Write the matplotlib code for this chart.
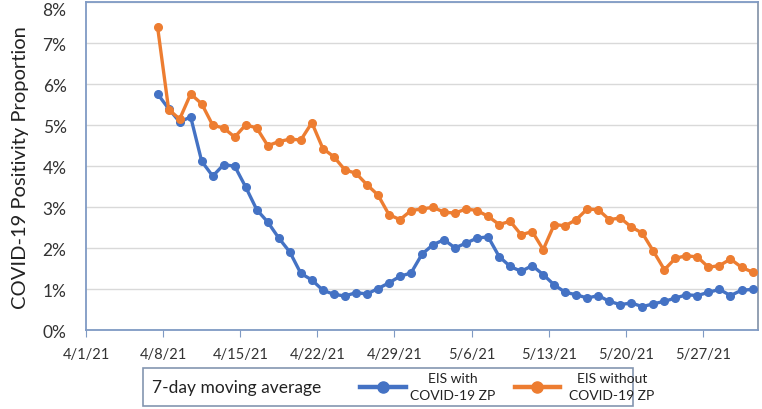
import matplotlib
matplotlib.use("Agg")
import matplotlib.pyplot as plt
from matplotlib.lines import Line2D
from matplotlib.patches import Rectangle
import pandas as pd

plt.rcParams['font.family'] = ['Lato', 'DejaVu Sans']

# 7-day moving averages, percent (plotted mid-day, 4/7/21 .. 5/31/21)
dates = pd.date_range("2021-04-07 12:00", periods=55, freq="D")
with_zp = [5.76, 5.40, 5.08, 5.20, 4.12, 3.76, 4.04, 4.00, 3.49, 2.94, 2.64,
           2.25, 1.91, 1.39, 1.23, 0.98, 0.88, 0.84, 0.92, 0.89, 1.02, 1.16, 1.32,
           1.40, 1.86, 2.09, 2.21, 2.01, 2.13, 2.25, 2.28, 1.80, 1.56, 1.44,
           1.58, 1.36, 1.11, 0.93, 0.87, 0.79, 0.85, 0.71, 0.63, 0.67, 0.58,
           0.65, 0.71, 0.79, 0.87, 0.85, 0.93, 1.00, 0.85, 0.98, 1.00]
without_zp = [7.38, 5.38, 5.15, 5.76, 5.52, 5.00, 4.93, 4.71, 5.01, 4.93, 4.50,
              4.60, 4.66, 4.64, 5.06, 4.43, 4.23, 3.91, 3.83, 3.55, 3.30, 2.82, 2.70,
              2.92, 2.96, 3.00, 2.88, 2.86, 2.96, 2.92, 2.78, 2.58, 2.66, 2.33,
              2.41, 1.97, 2.58, 2.55, 2.70, 2.96, 2.94, 2.70, 2.74, 2.52, 2.37,
              1.93, 1.48, 1.76, 1.82, 1.79, 1.54, 1.58, 1.74, 1.54, 1.42]

tick_dates = pd.date_range("2021-04-01", periods=9, freq="7D")
tick_labels = ["4/1/21", "4/8/21", "4/15/21", "4/22/21", "4/29/21",
               "5/6/21", "5/13/21", "5/20/21", "5/27/21"]
y_ticks = [0, 1, 2, 3, 4, 5, 6, 7, 8]

blue = "#4472C4"
orange = "#ED7D31"
frame = "#7f9ac4"

fig = plt.figure(figsize=(7.62, 4.10), dpi=100)
ax = fig.add_axes([0.1129, 0.1915, 0.8819, 0.8012])

ax.plot(dates, with_zp, color=blue, lw=2.4, marker="o", ms=5.5, zorder=3)
ax.plot(dates, without_zp, color=orange, lw=2.4, marker="o", ms=5.5, zorder=3)

ax.set_ylim(0, 8)
ax.set_xlim(pd.Timestamp("2021-04-01"), pd.Timestamp("2021-06-01"))
ax.set_yticks(y_ticks)
ax.set_yticklabels([f"{v}%" for v in y_ticks], fontsize=12.5, color="#333333")
ax.get_yticklabels()[-1].set_va("top")
ax.set_xticks(tick_dates)
ax.set_xticklabels(tick_labels, fontsize=10.5, color="#333333")
ax.tick_params(axis="y", length=0, pad=14)
ax.tick_params(axis="x", length=5, color=frame, direction="out", pad=7)
ax.grid(axis="y", color="#d9d9d9", lw=1)
ax.set_axisbelow(True)
for s in ax.spines.values():
    s.set_color(frame)
    s.set_linewidth(1.3)
ax.spines["right"].set_color("#8a98ad")

ax.set_ylabel("COVID-19 Positivity Proportion", fontsize=14.5, color="#222222", labelpad=10)

# legend box below the plot
fig.patches.append(Rectangle((0.1877, 0.0073), 0.643, 0.0927, transform=fig.transFigure,
                             fill=False, edgecolor="#8496b0", lw=1.2))
fig.text(0.199, 0.054, "7-day moving average", fontsize=12.5, va="center", ha="left", color="#222222")
fig.lines.append(Line2D([0.472, 0.5025, 0.533], [0.054] * 3, transform=fig.transFigure,
                        color=blue, lw=3.2, marker="o", ms=8, markevery=[1]))
fig.text(0.594, 0.054, "EIS with\nCOVID-19 ZP", fontsize=10, va="center", ha="center",
         multialignment="center", linespacing=1.5, color="#222222")
fig.lines.append(Line2D([0.676, 0.7045, 0.735], [0.054] * 3, transform=fig.transFigure,
                        color=orange, lw=3.2, marker="o", ms=8, markevery=[1]))
fig.text(0.803, 0.054, "EIS without\nCOVID-19 ZP", fontsize=10, va="center", ha="center",
         multialignment="center", linespacing=1.5, color="#222222")

fig.savefig("out.png", dpi=100)
